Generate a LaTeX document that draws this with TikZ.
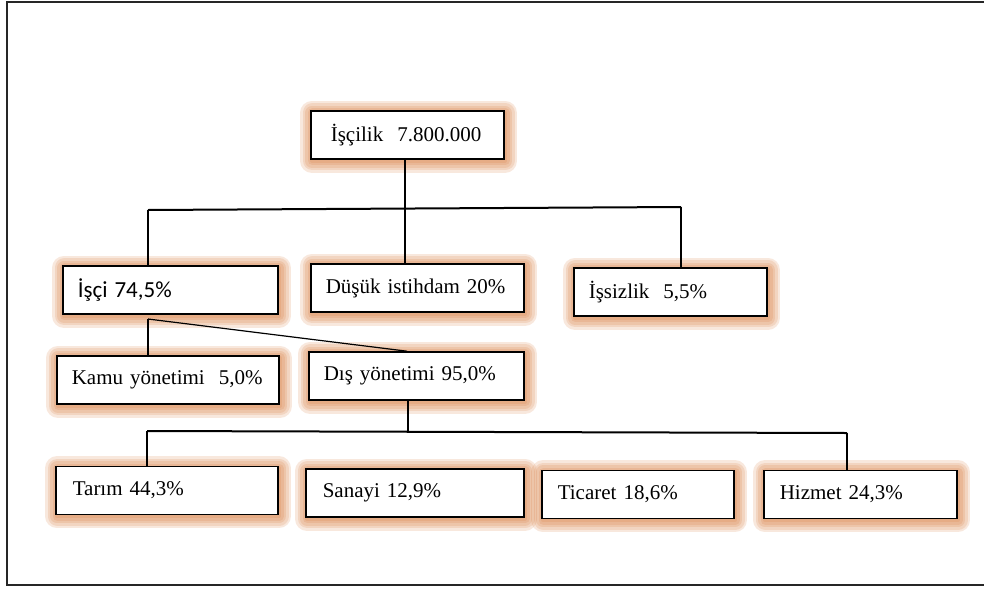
\documentclass[tikz,border=0pt]{standalone}
\usepackage{fontspec}
\setmainfont{Liberation Serif}
\newfontfamily\calibrifont{Carlito}
\usetikzlibrary{positioning, calc}

\definecolor{glowc}{RGB}{212,112,45}

\begin{document}
\begin{tikzpicture}[
      x=0.5pt, y=-0.5pt,
      font=\fontsize{10.5}{12.5}\selectfont,
      halo/.style={preaction={draw=glowc, line width=#1, line join=round,
        opacity=0.16, transform canvas={xshift=0.6pt, yshift=-0.9pt}}},
      glow/.style={halo=12pt, halo=9.5pt, halo=7pt, halo=4.5pt, halo=2pt},
      orgbox/.style={glow, draw, line width=0.8pt, fill=white, anchor=west,
        align=left, minimum height=24pt, inner xsep=7.5pt, inner ysep=0pt},
      link/.style={line width=0.6pt},
      bar/.style={line width=1pt}
    ]
    % frame
    \useasboundingbox (0,0) rectangle (984,589);
    \draw[line width=1pt, black!85] (7,2) rectangle (995,585);

    % boxes
    \node[orgbox, inner xsep=10pt, text width=76.5pt] (top) at (310,135) {\mbox{İşçilik\ \ 7.800.000}};
    \node[orgbox, text width=92.5pt] (isci) at (62,290) {\mbox{\calibrifont\fontsize{11.5}{13}\selectfont İşçi 74,5\%}};
    \node[orgbox, text width=91.5pt] (dusuk) at (310,288) {\mbox{Düşük istihdam 20\%}};
    \node[orgbox, text width=81.5pt] (issiz) at (573,292) {\mbox{İşsizlik\ \ 5,5\%}};
    \node[orgbox, text width=96pt] (kamu) at (56,380) {\mbox{Kamu yönetimi\ \ 5,0\%}};
    \node[orgbox, text width=92.5pt] (dis) at (308,376) {\mbox{Dış yönetimi 95,0\%}};
    \node[orgbox, inner xsep=8.5pt, text width=94pt] (tarim) at (55,490.5) {\mbox{Tarım 44,3\%}};
    \node[orgbox, inner xsep=8.5pt, text width=92pt] (sanayi) at (305,493) {\mbox{Sanayi 12,9\%}};
    \node[orgbox, inner xsep=8pt, text width=80pt] (ticaret) at (541,494.5) {\mbox{Ticaret 18,6\%}};
    \node[orgbox, inner xsep=8pt, text width=80.5pt] (hizmet) at (763,494.5) {\mbox{Hizmet 24,3\%}};

    % junctions
    \coordinate (b1) at (405,209);
    \coordinate (bl) at (148,210);
    \coordinate (br) at (681,207);
    \coordinate (c1) at (148,319);
    \coordinate (c2) at (407,352);
    \coordinate (d1) at (408,432);
    \coordinate (dl) at (147,431);
    \coordinate (dr) at (847,433);

    % first level
    \draw[link] (b1 |- top.south) -- (b1);
    \draw[bar] (bl) -- (br);
    \draw[link] (bl) -- (bl |- isci.north);
    \draw[link] (b1) -- (b1 |- dusuk.north);
    \draw[link] (br) -- (br |- issiz.north);

    % second level
    \draw[link] (c1) -- (c1 |- kamu.north);
    \draw[link] (c1) -- (c2 |- dis.north);

    % third level
    \draw[link] (d1 |- dis.south) -- (d1);
    \draw[bar] (dl) -- (dr);
    \draw[link] (dl) -- (dl |- tarim.north);
    \draw[link] (dr) -- (dr |- hizmet.north);
  \end{tikzpicture}
\end{document}
